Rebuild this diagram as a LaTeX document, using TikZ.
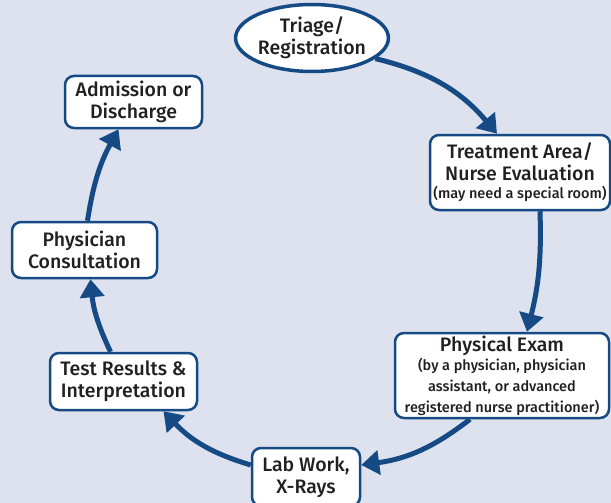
\documentclass[tikz,border=0pt]{standalone}
\usepackage{fontspec}
\setmainfont{Fira Sans}[BoldFont={Fira Sans Medium}]
\usetikzlibrary{arrows.meta,shapes.geometric}
\definecolor{stepblue}{HTML}{154A85}
\definecolor{bgblue}{HTML}{DDE2EE}
\definecolor{inkgray}{HTML}{231F20}
\tikzset{
	box/.style={draw=stepblue,line width=2.5pt,fill=white,rounded corners=9pt,align=center,
		text=inkgray,font=\bfseries\fontsize{19.5}{22}\selectfont,inner sep=0pt},
	flow/.style={draw=stepblue,line width=5pt,-{Triangle[length=18pt,width=24pt]}},
}
\newcommand{\subtxt}[1]{{\fontsize{14.5}{17}\selectfont #1}}

\begin{document}
\begin{tikzpicture}[x=1pt,y=1pt]
	\fill[bgblue] (0,0) rectangle (611,-503);
	\useasboundingbox (0,0) rectangle (611,-503);
	% steps of the visit
	\node[box,ellipse,line width=3.5pt,rounded corners=0pt,minimum width=150pt,minimum height=67pt] (triage) at (312,-38) {Triage/\\Registration};
	\node[box,minimum width=180pt,minimum height=75pt] (treat) at (520,-172.5) {Treatment Area/\\Nurse Evaluation\\[-4pt]\subtxt{(may need a special room)}};
	\node[box,minimum width=214pt,minimum height=85pt] (exam) at (502,-375.5) {Physical Exam\\[-3pt]\subtxt{(by a physician, physician}\\[-1pt]\subtxt{assistant, or advanced}\\[-1pt]\subtxt{registered nurse practitioner)}};
	\node[box,minimum width=108pt,minimum height=58pt] (lab) at (306,-477) {Lab Work,\\X-Rays};
	\node[box,minimum width=147pt,minimum height=57pt] (test) at (123.5,-381.5) {Test Results \&\\Interpretation};
	\node[box,minimum width=145pt,minimum height=56pt] (consult) at (84.5,-250) {Physician\\Consultation};
	\node[box,minimum width=137pt,minimum height=52pt] (admit) at (133.5,-102) {Admission or\\Discharge};
	% arrows round the circle
	\draw[flow] (triage.-18) to[bend left=18] ([xshift=-23pt]treat.north);
	\draw[flow] ([xshift=20pt]treat.south) to[bend left=8] ([xshift=25pt]exam.north);
	\draw[flow] ([xshift=-32pt]exam.south) to[bend left=15] ([yshift=12pt]lab.east);
	\draw[flow] ([yshift=12pt]lab.west) to[bend left=15] ([xshift=40pt]test.south);
	\draw[flow] ([xshift=-13pt]test.north) to[bend left=10] ([xshift=6pt]consult.south);
	\draw[flow] ([xshift=3pt]consult.north) to[bend left=10] ([xshift=-15pt]admit.south);
\end{tikzpicture}
\end{document}
